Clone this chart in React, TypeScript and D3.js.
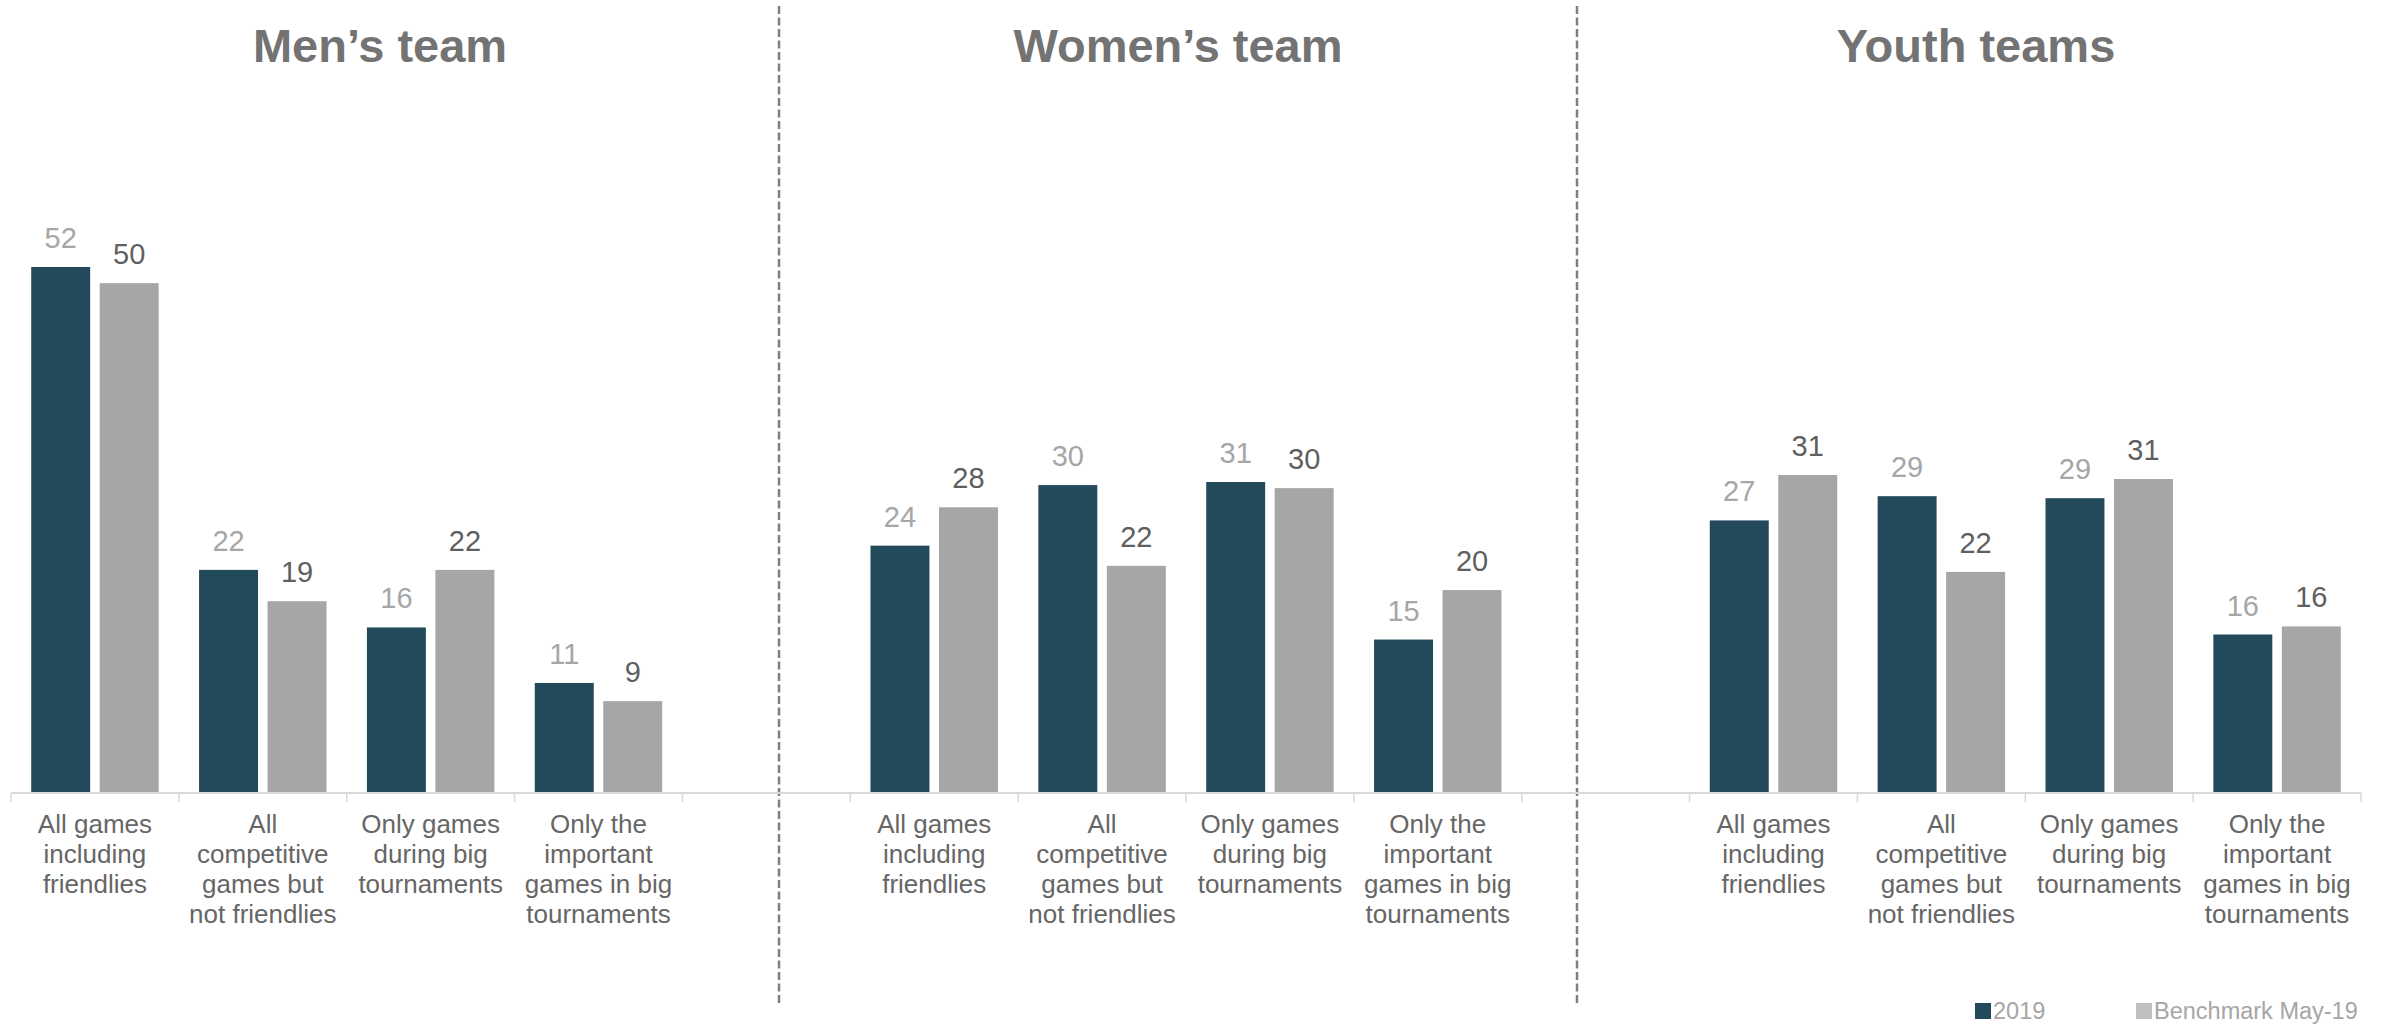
import React from "react";
import * as d3 from "d3";

const panels = ["Men’s team", "Women’s team", "Youth teams"];
const categories = [
  ["All games", "including", "friendlies"],
  ["All", "competitive", "games but", "not friendlies"],
  ["Only games", "during big", "tournaments"],
  ["Only the", "important", "games in big", "tournaments"],
];
const seriesNames = ["2019", "Benchmark May-19"];

const men2019 = [52, 22, 16.3, 10.8];
const menBench = [50.4, 18.9, 22, 9];
const women2019 = [24.4, 30.4, 30.7, 15.1];
const womenBench = [28.2, 22.4, 30.1, 20];
const youth2019 = [26.9, 29.3, 29.1, 15.6];
const youthBench = [31.4, 21.8, 31, 16.4];

const panelSeries = [
  [men2019, menBench],
  [women2019, womenBench],
  [youth2019, youthBench],
];

const W = 2387;
const H = 1025;
const FONT = "'Liberation Sans', Arial, Helvetica, sans-serif";
const barColors = ["#234a5b", "#a6a6a6"];
const labelColors = ["#a6a6a6", "#5f5f5f"];
const legendColors = ["#234a5b", "#bfbfbf"];

export default function App() {
  // one continuous band axis: 4 categories per panel with an empty slot between panels
  const slots: string[] = [];
  panels.forEach((p, pi) => {
    categories.forEach((_, ci) => slots.push(`${pi}-${ci}`));
    if (pi < panels.length - 1) slots.push(`gap-${pi}`);
  });
  const x = d3.scaleBand<string>().domain(slots).range([11, 2361]).paddingInner(0).paddingOuter(0);
  const bw = x.bandwidth();
  const xs = d3
    .scaleBand<string>()
    .domain(seriesNames)
    .range([0, bw])
    .paddingInner(0.139)
    .paddingOuter(0.295);
  const y = d3.scaleLinear().domain([0, 52]).range([792, 267]);

  const titleX = [380, 1178, 1976];
  const dividerX = [779, 1577];

  return (
    <svg
      width={W}
      height={H}
      viewBox={`0 0 ${W} ${H}`}
      style={{ position: "absolute", left: 0, top: 0, display: "block", background: "#fff" }}
      fontFamily={FONT}
    >
      {panels.map((p, pi) => (
        <text
          key={p}
          x={titleX[pi]}
          y={62}
          textAnchor="middle"
          fontSize={47}
          fontWeight="bold"
          fill="#737373"
        >
          {p}
        </text>
      ))}

      {dividerX.map((dx) => (
        <line
          key={dx}
          x1={dx}
          x2={dx}
          y1={6}
          y2={1005}
          stroke="#7f7f7f"
          strokeWidth={2.5}
          strokeDasharray="8 3.5"
        />
      ))}

      {/* axis */}
      <line x1={x.range()[0]} x2={x.range()[1]} y1={793} y2={793} stroke="#d9d9d9" strokeWidth={2} />
      {d3.range(slots.length + 1).map((i) => {
        const tx = 11 + i * bw;
        return <line key={i} x1={tx} x2={tx} y1={793} y2={802} stroke="#d9d9d9" strokeWidth={1.5} />;
      })}

      {panels.map((p, pi) =>
        categories.map((cat, ci) => {
          const key = `${pi}-${ci}`;
          const x0 = x(key)!;
          return (
            <g key={key}>
              {seriesNames.map((s, si) => {
                const v = panelSeries[pi][si][ci];
                const bx = x0 + xs(s)!;
                const top = y(v);
                return (
                  <g key={s}>
                    <rect x={bx} y={top} width={xs.bandwidth()} height={y(0) - top} fill={barColors[si]} />
                    <text
                      x={bx + xs.bandwidth() / 2}
                      y={top - 19}
                      textAnchor="middle"
                      fontSize={29}
                      fill={labelColors[si]}
                    >
                      {Math.round(v)}
                    </text>
                  </g>
                );
              })}
              <text x={x0 + bw / 2} y={833} textAnchor="middle" fontSize={26} fill="#666666">
                {cat.map((line, li) => (
                  <tspan key={li} x={x0 + bw / 2} y={833 + li * 30}>
                    {line}
                  </tspan>
                ))}
              </text>
            </g>
          );
        })
      )}

      {/* legend */}
      {seriesNames.map((s, si) => {
        const lx = [1975, 2136][si];
        return (
          <g key={s}>
            <rect x={lx} y={1003} width={16} height={16} fill={legendColors[si]} />
            <text x={lx + 18} y={1019} fontSize={23.5} fill="#a6a6a6">
              {s}
            </text>
          </g>
        );
      })}
    </svg>
  );
}
